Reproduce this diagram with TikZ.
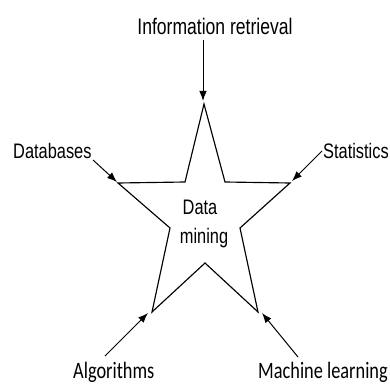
\documentclass[tikz,border=0pt]{standalone}
\usepackage{fontspec}
\setmainfont{Liberation Sans}[FakeStretch=0.78]
\newfontfamily\calfont{Carlito}[FakeStretch=0.78]
\usetikzlibrary{arrows.meta}
\begin{document}
\begin{tikzpicture}[x=1pt,y=-1pt,
  lbl/.style={inner sep=0pt,font=\fontsize{21}{25}\selectfont},
  clbl/.style={inner sep=0pt,font=\calfont\fontsize{23.5}{28}\selectfont},
  arr/.style={line width=1pt,-{Latex[length=10pt,width=7.5pt]}},
  starline/.style={line width=1.15pt,line join=miter}]
\useasboundingbox[fill=white] (0,0) rectangle (390,385);
% star
\coordinate (T) at (204,104);
\coordinate (URi) at (225,182);
\coordinate (R) at (290,183);
\coordinate (MRi) at (240,228);
\coordinate (BR) at (258,312);
\coordinate (Bi) at (205,263);
\coordinate (BL) at (152,312);
\coordinate (MLi) at (170,228);
\coordinate (L) at (118,183);
\coordinate (ULi) at (185,182);
\draw[starline] (T) -- (URi) -- (R) -- (MRi) -- (BR) -- (Bi) -- (BL) -- (MLi) -- (L) -- (ULi) -- cycle;
% labels
\node[lbl,anchor=base,font=\fontsize{22.5}{26}\selectfont] (ir) at (215,35) {Information retrieval};
\node[lbl,anchor=base west] (db) at (13,158) {Databases};
\node[lbl,anchor=base west] (st) at (323,158) {Statistics};
\node[lbl,anchor=base] (dm1) at (200,214) {Data};
\node[lbl,anchor=base] (dm2) at (204,243) {mining};
\node[clbl,anchor=base west] (al) at (73,378) {Algorithms};
\node[clbl,anchor=base west] (ml) at (258,378) {Machine learning};
% arrow endpoints
\coordinate (irS) at (203,40);
\coordinate (irE) at (203,101);
\coordinate (dbS) at (93,160);
\coordinate (dbE) at (117,182);
\coordinate (stS) at (322,151);
\coordinate (stE) at (292,181);
\coordinate (alS) at (105,356);
\coordinate (alE) at (148,313);
\coordinate (mlS) at (298,357);
\coordinate (mlE) at (262,313);
\draw[arr] (irS) -- (irE);
\draw[arr] (dbS) -- (dbE);
\draw[arr] (stS) -- (stE);
\draw[arr] (alS) -- (alE);
\draw[arr] (mlS) -- (mlE);
\end{tikzpicture}
\end{document}
